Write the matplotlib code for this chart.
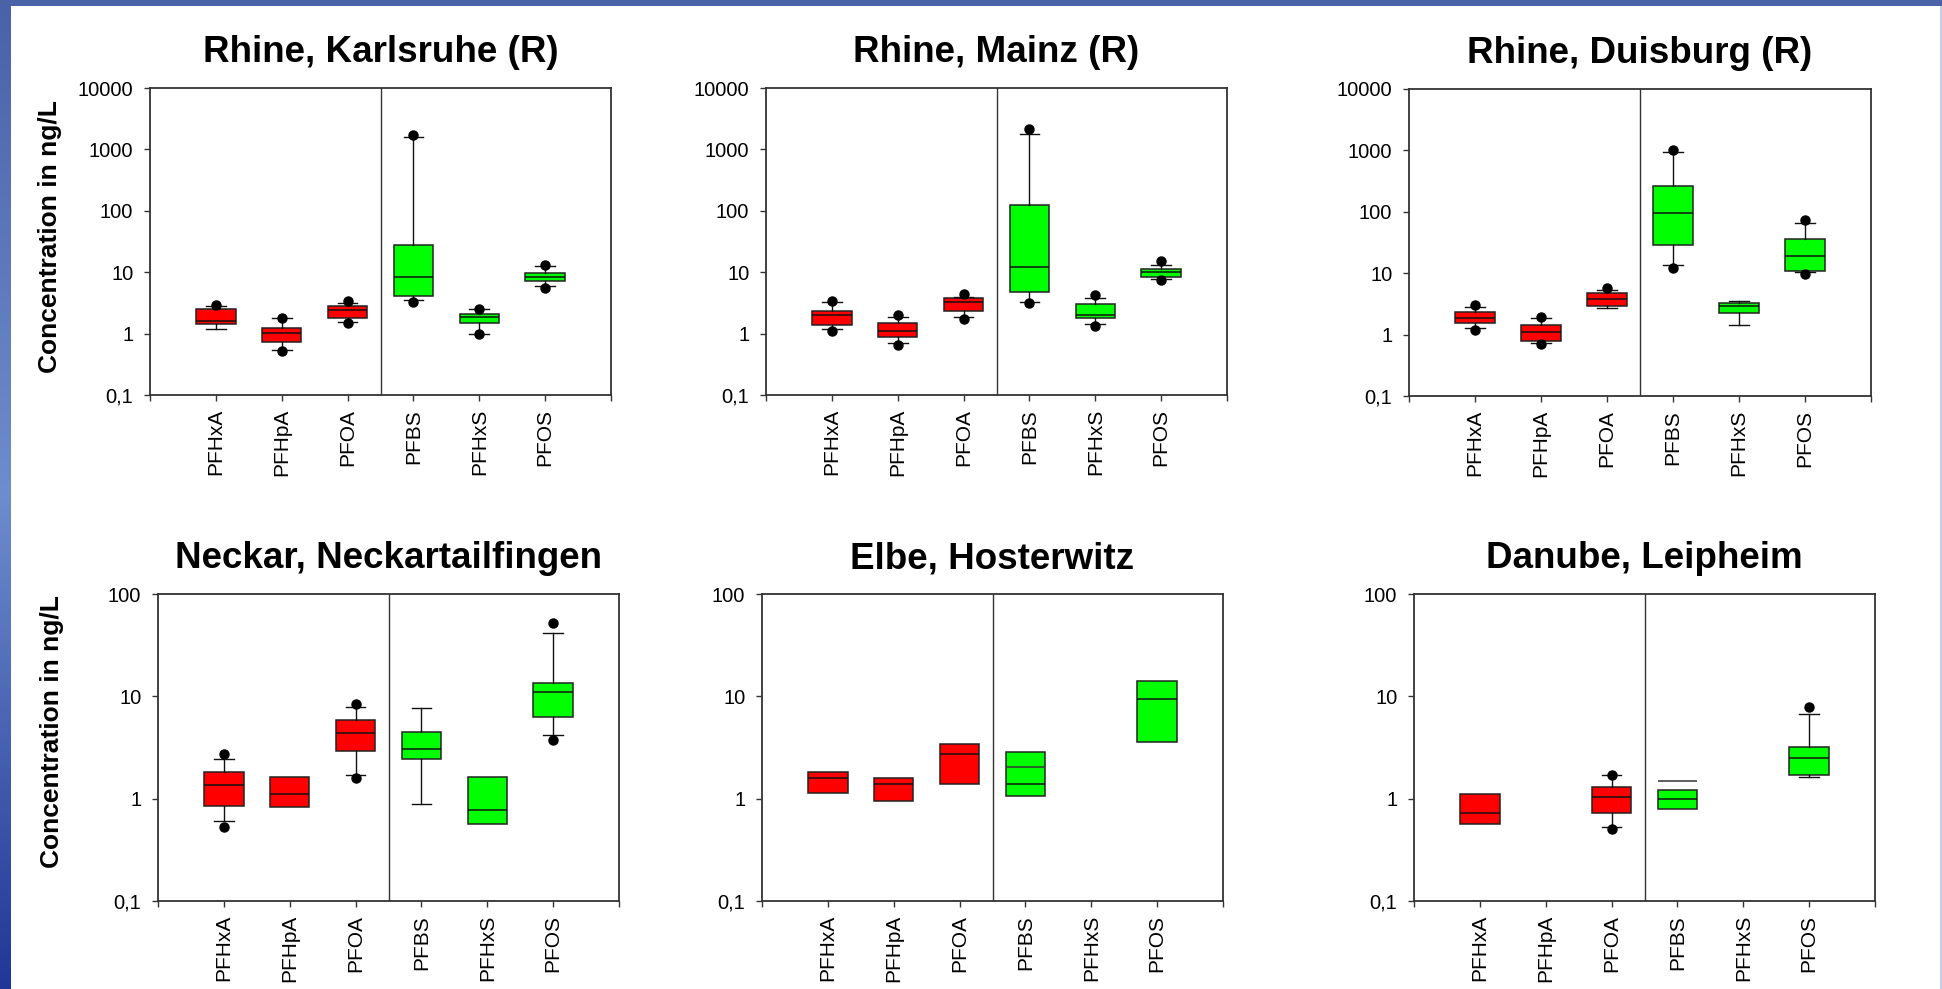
import matplotlib
matplotlib.use("Agg")
import matplotlib.pyplot as plt
import numpy as np
from matplotlib.colors import LinearSegmentedColormap

plt.rcParams["font.family"] = ["Liberation Sans", "DejaVu Sans"]

W, H = 1942, 989

cats = ["PFHxA", "PFHpA", "PFOA", "PFBS", "PFHxS", "PFOS"]
colors = ["#ff0000", "#ff0000", "#ff0000", "#00ff00", "#00ff00", "#00ff00"]

# ---- Rhine, Karlsruhe ----
ka_q1 = [1.41, 0.72, 1.79, 4.15, 1.50, 7.2]
ka_med = [1.62, 1.03, 2.45, 8.5, 1.86, 8.5]
ka_q3 = [2.51, 1.24, 2.84, 27.5, 2.11, 9.6]
ka_wlo = [1.20, 0.55, 1.56, 3.47, 1.0, 5.9]
ka_whi = [2.84, 1.79, 3.15, 1583, 2.48, 12.6]
ka_dots = [[2.9], [0.53, 1.82], [1.48, 3.35], [3.3, 1730], [0.98, 2.52], [5.6, 13.0]]

# ---- Rhine, Mainz ----
mz_q1 = [1.38, 0.88, 2.30, 4.8, 1.81, 8.3]
mz_med = [1.98, 1.11, 3.30, 12.1, 2.03, 9.9]
mz_q3 = [2.36, 1.47, 3.74, 123, 3.06, 11.2]
mz_wlo = [1.2, 0.71, 1.88, 3.3, 1.45, 7.8]
mz_whi = [3.26, 1.86, 3.93, 1786, 3.78, 13.2]
mz_dots = [[1.10, 3.35], [0.65, 2.0], [1.70, 4.4], [3.1, 2130], [1.32, 4.19], [7.6, 15.1]]

# ---- Rhine, Duisburg ----
du_q1 = [1.53, 0.79, 2.97, 28.6, 2.29, 10.9]
du_med = [1.89, 1.12, 3.82, 94, 2.93, 18.9]
du_q3 = [2.37, 1.42, 4.72, 265, 3.28, 36.7]
du_wlo = [1.27, 0.74, 2.72, 13.7, 1.42, 10.3]
du_whi = [2.79, 1.89, 5.42, 927, 3.49, 64.6]
du_dots = [[1.19, 3.0], [0.70, 1.9], [5.7], [12.2, 1025], [], [9.7, 73]]

# ---- Neckar, Neckartailfingen ----
ne_q1 = [0.84, 0.83, 2.94, 2.45, 0.56, 6.35]
ne_med = [1.36, 1.11, 4.37, 3.05, 0.77, 11.0]
ne_q3 = [1.82, 1.64, 5.85, 4.47, 1.64, 13.6]
ne_wlo = [0.60, None, 1.72, 0.895, None, 4.18]
ne_whi = [2.45, None, 7.85, 7.67, None, 41.6]
ne_dots = [[0.53, 2.74], [], [1.61, 8.34], [], [], [3.73, 52]]

# ---- Elbe, Hosterwitz ----
el_q1 = [1.14, 0.95, 1.40, 1.06, None, 3.60]
el_med = [1.61, 1.40, 2.72, 1.40, None, 9.4]
el_q3 = [1.84, 1.58, 3.41, 2.85, None, 14.0]
el_wlo = [None] * 6
el_whi = [None] * 6
el_dots = [[], [], [], [], [], []]
el_extra = {3: 2.06}

# ---- Danube, Leipheim ----
da_q1 = [0.56, None, 0.72, 0.79, None, 1.70]
da_med = [0.72, None, 1.03, 1.0, None, 2.47]
da_q3 = [1.11, None, 1.30, 1.21, None, 3.21]
da_wlo = [None, None, 0.53, None, None, 1.62]
da_whi = [None, None, 1.70, None, None, 6.74]
da_dots = [[], [], [0.51, 1.71], [], [], [7.91]]
da_extra = {3: 1.50}

panels = [
    ("Rhine, Karlsruhe (R)", ka_q1, ka_med, ka_q3, ka_wlo, ka_whi, ka_dots, {}, 10000, (150, 611, 88, 395)),
    ("Rhine, Mainz (R)", mz_q1, mz_med, mz_q3, mz_wlo, mz_whi, mz_dots, {}, 10000, (766, 1227, 88, 395)),
    ("Rhine, Duisburg (R)", du_q1, du_med, du_q3, du_wlo, du_whi, du_dots, {}, 10000, (1409, 1871, 89, 396)),
    ("Neckar, Neckartailfingen", ne_q1, ne_med, ne_q3, ne_wlo, ne_whi, ne_dots, {}, 100, (158, 619, 594, 901)),
    ("Elbe, Hosterwitz", el_q1, el_med, el_q3, el_wlo, el_whi, el_dots, el_extra, 100, (762, 1223, 594, 901)),
    ("Danube, Leipheim", da_q1, da_med, da_q3, da_wlo, da_whi, da_dots, da_extra, 100, (1414, 1875, 594, 901)),
]

fig = plt.figure(figsize=(W / 100, H / 100), dpi=100)
fig.patch.set_facecolor("white")

# blauer Rahmen links/oben
cmap = LinearSegmentedColormap.from_list("frame", ["#4a62a8", "#6e8dcc", "#1f3797"])
bg = fig.add_axes([0, 0, 10 / W, 1])
bg.imshow(np.linspace(0, 1, 256).reshape(-1, 1), aspect="auto", cmap=cmap)
bg.set_axis_off()
top = fig.add_axes([0, 1 - 6 / H, 1, 6 / H])
top.set_facecolor("#4a62a8")
top.set_xticks([])
top.set_yticks([])
for s in top.spines.values():
    s.set_visible(False)
rgt = fig.add_axes([1 - 2 / W, 0, 2 / W, 1 - 6 / H])
rgt.set_facecolor("#c5d1ec")
rgt.set_xticks([])
rgt.set_yticks([])
for s in rgt.spines.values():
    s.set_visible(False)

for title, q1, med, q3, wlo, whi, dots, extra, ymax, (l, r, t, b) in panels:
    ax = fig.add_axes([l / W, 1 - b / H, (r - l) / W, (b - t) / H])
    for i in range(6):
        if q1[i] is None:
            continue
        has_wh = wlo[i] is not None
        stats = dict(
            med=med[i], q1=q1[i], q3=q3[i],
            whislo=wlo[i] if has_wh else q1[i],
            whishi=whi[i] if has_wh else q3[i],
            fliers=dots[i],
        )
        ax.bxp(
            [stats], positions=[i + 1], widths=0.6, patch_artist=True,
            showcaps=has_wh, capwidths=[0.3], manage_ticks=False,
            boxprops=dict(facecolor=colors[i], edgecolor="#222222", linewidth=1.1),
            medianprops=dict(color="#111111", linewidth=1.1),
            whiskerprops=dict(color="#111111", linewidth=1.0),
            capprops=dict(color="#111111", linewidth=1.0),
            flierprops=dict(marker="o", markerfacecolor="black", markeredgecolor="black",
                            markersize=6.5, linestyle="none"),
        )
    for i, v in extra.items():
        ax.hlines(v, i + 1 - 0.3, i + 1 + 0.3, color="#333333", linewidth=1.1)

    ax.axvline(3.5, color="#333333", linewidth=1.0)
    ax.set_yscale("log")
    ax.set_ylim(0.1, ymax)
    ax.set_xlim(0, 7)
    decades = [0.1, 1, 10, 100, 1000, 10000]
    decades = [d for d in decades if d <= ymax]
    ax.set_yticks(decades)
    ax.set_yticklabels([("%g" % d).replace(".", ",") for d in decades])
    ax.yaxis.set_minor_locator(matplotlib.ticker.NullLocator())
    ax.set_xticks(range(8))
    ax.set_xticklabels([""] + cats + [""], rotation=90)
    ax.tick_params(axis="y", direction="out", length=4, width=1, labelsize=14.5, pad=8, color="#333333")
    ax.tick_params(axis="x", direction="out", length=4, width=1, labelsize=15, pad=6, color="#333333")
    for s in ax.spines.values():
        s.set_color("#333333")
        s.set_linewidth(1.3)

    fig.text((l + r) / 2 / W, 1 - (t - 26) / H, title, ha="center", va="baseline",
             fontsize=26.5, fontweight="bold")

fig.text(50 / W, 1 - 237 / H, "Concentration in ng/L", rotation=90, ha="center", va="center",
         fontsize=19, fontweight="bold")
fig.text(52 / W, 1 - 732 / H, "Concentration in ng/L", rotation=90, ha="center", va="center",
         fontsize=19, fontweight="bold")

fig.savefig("out.png", dpi=100)
